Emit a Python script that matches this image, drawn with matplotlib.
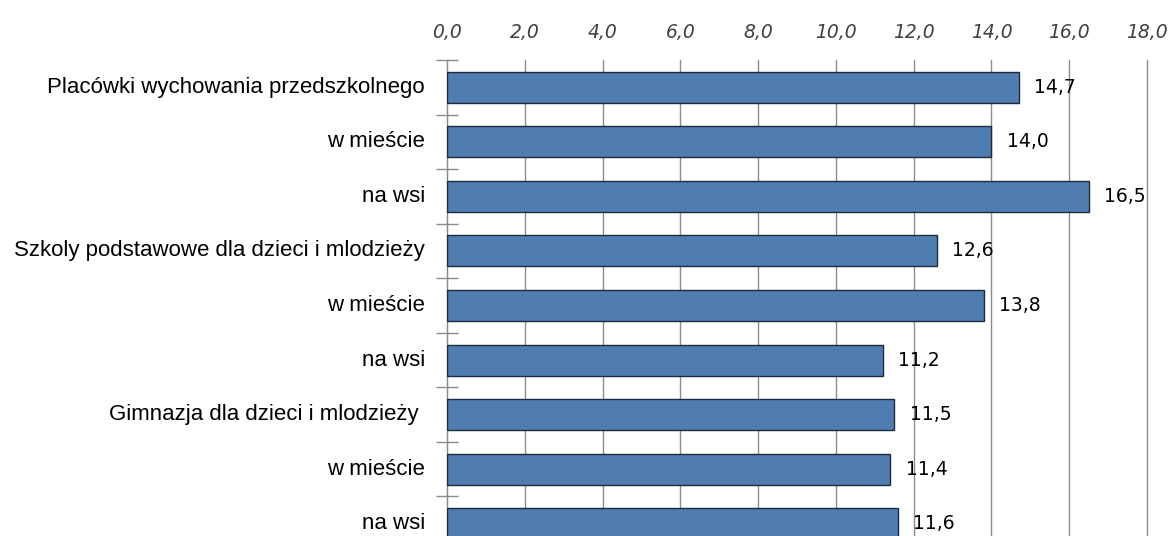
import matplotlib
matplotlib.use("Agg")
import matplotlib.pyplot as plt
from matplotlib import font_manager

categories = [
    "Placówki wychowania przedszkolnego",
    "w mieście",
    "na wsi",
    "Szkoly podstawowe dla dzieci i mlodzieży",
    "w mieście",
    "na wsi",
    "Gimnazja dla dzieci i mlodzieży ",
    "w mieście",
    "na wsi",
]
values = [14.7, 14.0, 16.5, 12.6, 13.8, 11.2, 11.5, 11.4, 11.6]
ticks = [0, 2, 4, 6, 8, 10, 12, 14, 16, 18]

names = {f.name for f in font_manager.fontManager.ttflist}
narrow = "Liberation Sans Narrow" if "Liberation Sans Narrow" in names else "Liberation Sans"

fig = plt.figure(figsize=(11.72, 5.36), dpi=100)
ax = fig.add_axes([447 / 1172, -15 / 536, 700 / 1172, 491 / 536])

pos = list(range(len(values)))
ax.barh(pos, values, height=0.57, color="#4F7DB2", edgecolor="#1E2B3C",
        linewidth=1.0, zorder=3)

for y, v in zip(pos, values):
    ax.annotate(f"{v:.1f}".replace(".", ","), (v, y), xytext=(11, 0),
                textcoords="offset points", va="center", ha="left",
                fontsize=13.5, color="black", zorder=4)

ax.set_xlim(0, 18)
ax.set_ylim(len(values) - 0.5, -0.5)
ax.xaxis.tick_top()
ax.set_xticks(ticks)
ax.set_xticklabels([f"{t:.1f}".replace(".", ",") for t in ticks],
                   fontstyle="italic", fontsize=13.5, color="#404040")
ax.tick_params(axis="x", length=0, pad=13)
ax.grid(axis="x", color="#8C8C8C", linewidth=1.0, zorder=0)
for line in ax.get_xgridlines():
    line.set_clip_on(False)

# category boundaries as short ticks across the left spine
ax.set_yticks([p - 0.5 for p in pos] + [len(values) - 0.5])
ax.set_yticklabels([])
ax.tick_params(axis="y", length=16, color="#8C8C8C", direction="inout", width=1)
for y, name in zip(pos, categories):
    ax.text(-0.57, y, name, ha="right", va="center", fontsize=16,
            family=[narrow, "DejaVu Sans"], color="black")

for side in ["top", "right", "bottom"]:
    ax.spines[side].set_visible(False)
ax.spines["left"].set_color("#8C8C8C")

fig.savefig("out.png", dpi=100)
